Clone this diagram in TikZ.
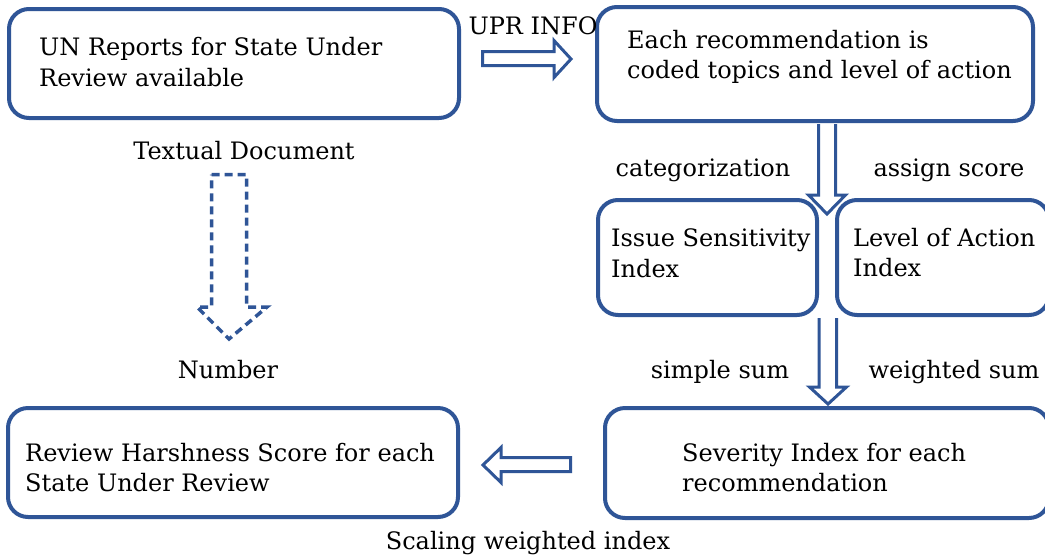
\documentclass[tikz,border=0pt]{standalone}
\usepackage{fontspec}
\setmainfont{DejaVu Serif}
\definecolor{bl}{RGB}{47,85,151}
\begin{document}
\begin{tikzpicture}[x=1pt,y=-1pt,
  box/.style={draw=bl, line width=4pt, rounded corners=20pt, fill=white},
  txt/.style={font=\fontsize{24}{30.5}\selectfont, align=left, anchor=west, inner sep=0pt},
  lbl/.style={font=\fontsize{24}{28}\selectfont, inner sep=0pt, text height=17pt, text depth=5pt},
  barrow/.style={draw=bl, line width=3pt, fill=white, line join=miter},
  darrow/.style={draw=bl, line width=3.5pt, dash pattern=on 8pt off 5pt}
]
\useasboundingbox (0,0) rectangle (1045,558);
\fill[white] (0,0) rectangle (1045,558);
% boxes
\draw[box] (9,9) rectangle (459,118);
\draw[box] (597,7) rectangle (1033,121);
\draw[box] (598,200) rectangle (817,315);
\draw[box] (837,200) rectangle (1049,315);
\draw[box] (8,408) rectangle (458,517);
\draw[box] (605,408) rectangle (1049,518);
% box texts
\node[txt] (t1) at (39,62) {UN Reports for State Under\\Review available};
\node[txt] (t2) at (627,57) {Each recommendation is\\coded topics and level of action};
\node[txt] (t3) at (611,253.5) {Issue Sensitivity\\Index};
\node[txt] (t4) at (853,252.5) {Level of Action\\Index};
\node[txt] (t5) at (25,467.5) {Review Harshness Score for each\\State Under Review};
\node[txt] (t6) at (682,467.5) {Severity Index for each\\recommendation};
% labels
\node[lbl] (l1) at (533,28) {UPR INFO};
\node[lbl] (l2) at (244,153) {Textual Document};
\node[lbl] (l3) at (228,372) {Number};
\node[lbl] (l4) at (703,170) {categorization};
\node[lbl] (l5) at (949,170) {assign score};
\node[lbl] (l6) at (720,372) {simple sum};
\node[lbl] (l7) at (954,372) {weighted sum};
\node[lbl] (l8) at (528,543) {Scaling weighted index};
% block arrows
\draw[barrow] (482.5,51.5) -- (554,51.5) -- (554,40.5) -- (571,59) -- (554,77.5) -- (554,65.5) -- (482.5,65.5) -- cycle;
\filldraw[barrow] (818.5,124) -- (818.5,195) -- (808.5,195) -- (827,214) -- (845.5,195) -- (835.5,195) -- (835.5,124);
\filldraw[barrow] (819,318) -- (819,387) -- (809.5,387) -- (828,404) -- (846.5,387) -- (836.5,387) -- (836.5,318);
\draw[barrow] (570.5,457.5) -- (501,457.5) -- (501,447.5) -- (483,465) -- (501,482.5) -- (501,471.5) -- (570.5,471.5) -- cycle;
\draw[darrow] (211.5,174.5) -- (246.5,174.5) -- (246.5,307) -- (267,307) -- (229,339) -- (197,307) -- (211.5,307) -- cycle;
\end{tikzpicture}
\end{document}
